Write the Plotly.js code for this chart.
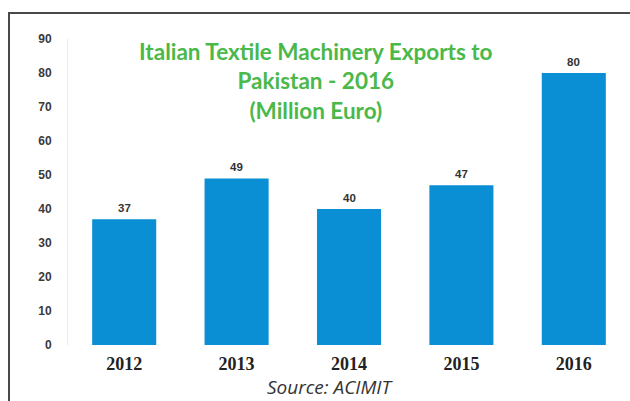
<!DOCTYPE html>
<html>
<head>
<meta charset="utf-8">
<script src="https://cdn.plot.ly/plotly-3.0.1.min.js"></script>
<style>
  html, body { margin: 0; padding: 0; background: #fff; }
  #wrap { position: relative; width: 630px; height: 401px; overflow: hidden; }
  #chart { position: absolute; left: 0; top: 0; width: 630px; height: 401px; }
  #frame { position: absolute; left: 8px; top: 12px; width: 640px; height: 400px;
           border-top: 2px solid #4a4a4a; border-left: 2px solid #4a4a4a; pointer-events: none; }
</style>
</head>
<body>
<div id="wrap">
  <div id="chart"></div>
  <div id="frame"></div>
</div>
<script>
const years = ['2012', '2013', '2014', '2015', '2016'];
const exportsMillionEuro = [37, 49, 40, 47, 80];
const yTicks = [0, 10, 20, 30, 40, 50, 60, 70, 80, 90];
const titleLines = ['Italian Textile Machinery Exports to', 'Pakistan - 2016', '(Million Euro)'];
const sourceText = 'Source: ACIMIT';

const barColor = '#0b8fd4';

const trace = {
  type: 'bar',
  x: years,
  y: exportsMillionEuro,
  marker: { color: barColor },
  hoverinfo: 'x+y'
};

const valueLabels = exportsMillionEuro.map((v, i) => ({
  x: i, y: v, xref: 'x', yref: 'y',
  text: String(v),
  showarrow: false, yanchor: 'bottom', yshift: 3,
  font: { family: 'Arial, Liberation Sans, sans-serif', size: 11.5, color: '#333', weight: 'bold' }
}));

const layout = {
  width: 630, height: 401,
  margin: { l: 68, r: 0, t: 39, b: 56 },
  paper_bgcolor: '#fff',
  plot_bgcolor: '#fff',
  showlegend: false,
  bargap: 0.43,
  xaxis: {
    type: 'category',
    range: [-0.5, 4.5],
    showgrid: false, zeroline: false, showline: false,
    ticks: 'outside', ticklen: 2, tickcolor: 'rgba(0,0,0,0)',
    tickfont: { family: 'Liberation Serif, Times New Roman, serif', size: 18, color: '#222', weight: 'bold' },
    fixedrange: true
  },
  yaxis: {
    range: [0, 90],
    tickvals: yTicks,
    showgrid: false, zeroline: false,
    showline: true, linecolor: '#ececec', linewidth: 1,
    ticks: 'outside', ticklen: 13, tickcolor: 'rgba(0,0,0,0)',
    tickfont: { family: 'Arial, Liberation Sans, sans-serif', size: 12, color: '#3a3a3a', weight: 'bold' },
    fixedrange: true
  },
  annotations: valueLabels.concat([
    {
      xref: 'paper', yref: 'paper', x: (316 - 68) / 562, y: (345 - 81) / 306,
      xanchor: 'center', yanchor: 'middle', showarrow: false,
      text: titleLines.map(t => '<b>' + t + '</b>').join('<br>'),
      align: 'center',
      font: { family: 'Lato, Open Sans, sans-serif', size: 22.5, color: '#4bb84a' }
    },
    {
      xref: 'paper', yref: 'paper', x: (330 - 68) / 562, y: (345 - 387) / 306,
      xanchor: 'center', yanchor: 'middle', showarrow: false,
      text: '<i>' + sourceText + '</i>',
      font: { family: 'Open Sans, sans-serif', size: 19, color: '#333' }
    }
  ])
};

Plotly.newPlot('chart', [trace], layout, { displayModeBar: false, staticPlot: true });
</script>
</body>
</html>
